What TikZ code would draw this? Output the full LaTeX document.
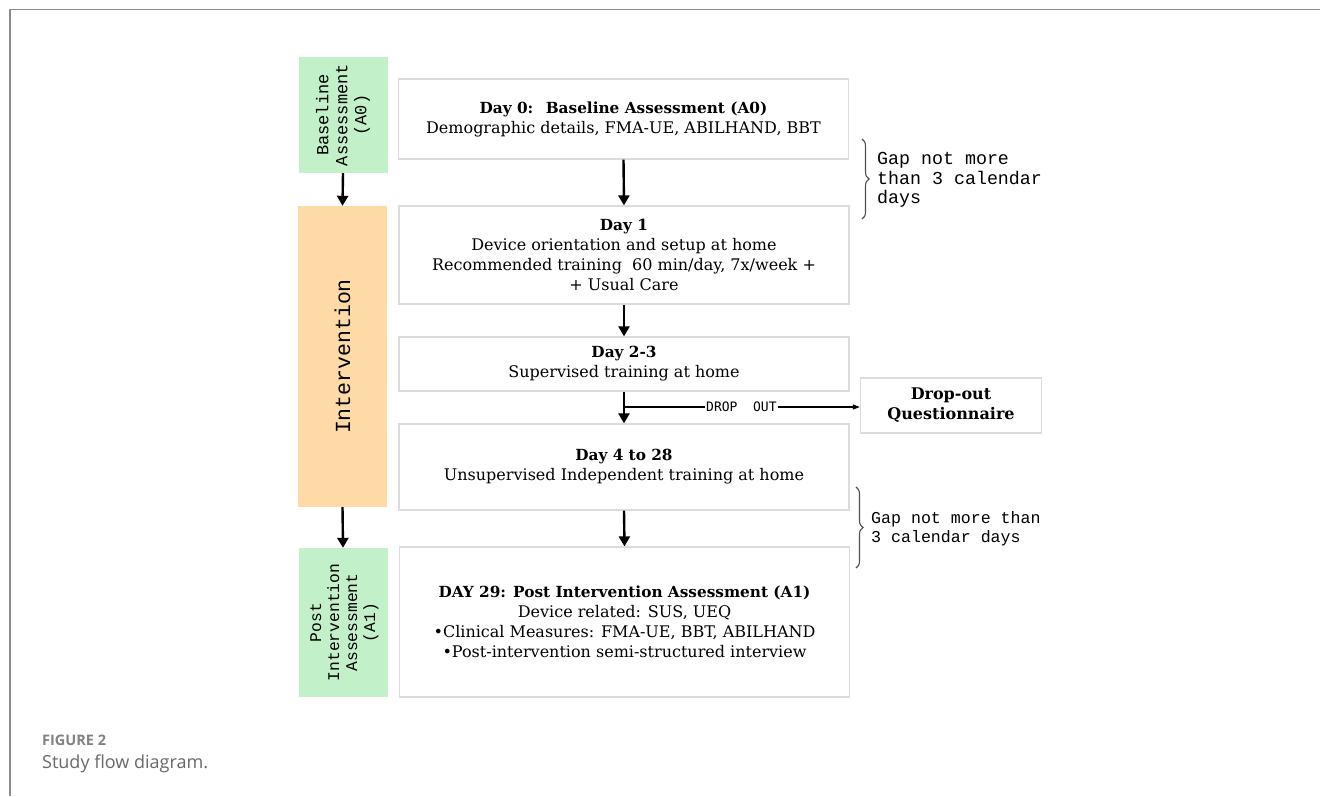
\documentclass[tikz,border=0pt]{standalone}
\usepackage{fontspec}
\setmainfont{DejaVu Serif}
\newfontfamily\monofont{Liberation Mono}
\newfontfamily\dropfont{DejaVu Sans Mono}
\newfontfamily\capfont{Open Sans}
\usetikzlibrary{arrows.meta,decorations.pathreplacing}
\definecolor{boxline}{RGB}{218,220,222}
\definecolor{greenfill}{RGB}{194,240,200}
\definecolor{orangefill}{RGB}{253,218,166}
\definecolor{framegray}{RGB}{140,140,140}
\definecolor{capgray}{RGB}{105,105,105}
\definecolor{capgraylight}{RGB}{130,130,130}
\definecolor{bracegray}{RGB}{80,80,80}
\newcommand{\hd}[1]{{\fontsize{15.3}{20}\selectfont\bfseries #1}}
\begin{document}
\begin{tikzpicture}[x=1pt,y=-1pt,
  stagebox/.style={draw=boxline, line width=1.3pt, fill=white, minimum width=450pt,
    align=center, inner sep=0pt, font=\fontsize{16}{20}\selectfont},
  phasebox/.style={inner sep=0pt, minimum width=89pt, draw=none},
  phasetext/.style={rotate=90, align=center, inner sep=0pt},
  flow/.style={-{Triangle[width=11pt,length=10pt]}, line width=2.4pt},
  thinflow/.style={-{Triangle[width=5pt,length=7pt]}, line width=1.1pt},
  gapbrace/.style={decorate, decoration={brace, amplitude=7pt}, draw=bracegray, line width=1.1pt},
  gaptext/.style={anchor=west, align=left, inner sep=0pt}
]
\useasboundingbox (0,0) rectangle (1320,796);
\fill[white] (0,0) rectangle (1320,796);
% frame
\draw[framegray, line width=1.5pt] (10,796) -- (10,9.5) -- (1320,9.5);

% phase boxes
\node[phasebox, fill=greenfill, minimum height=116pt] (a0) at (343,115) {};
\node[phasetext, font=\monofont\fontsize{17}{19}\selectfont] (a0t) at (a0.center) {Baseline\\Assessment\\(A0)};
\node[phasebox, fill=orangefill, minimum height=301pt] (iv) at (342.5,356.5) {};
\node[phasetext, font=\monofont\fontsize{21.5}{24}\selectfont] (ivt) at (iv.center) {Intervention};
\node[phasebox, fill=greenfill, minimum height=149pt] (a1) at (343,622.5) {};
\node[phasetext, font=\monofont\fontsize{16.3}{18}\selectfont] (a1t) at (344.5,622.5) {Post\\Intervention\\Assessment\\(A1)};

% stage boxes
\node[stagebox, minimum height=80pt] (b0) at (623.5,119) {\hd{Day 0:~ Baseline Assessment (A0)}\\Demographic details, FMA-UE, ABILHAND, BBT};
\node[stagebox, minimum height=98pt] (b1) at (624,255) {\hd{Day 1}\\Device orientation and setup at home\\Recommended training~ 60 min/day, 7x/week +\\+ Usual Care};
\node[stagebox, minimum height=54pt] (b2) at (624,364) {\hd{Day 2-3}\\Supervised training at home};
\node[stagebox, minimum height=86pt] (b3) at (624,467) {\hd{Day 4 to 28}\\Unsupervised Independent training at home};
\node[stagebox, minimum height=150pt] (b4) at (624.5,622) {\hd{DAY 29: Post Intervention Assessment (A1)}\\Device related: SUS, UEQ\\\textbullet Clinical Measures: FMA-UE, BBT, ABILHAND\\\textbullet Post-intervention semi-structured interview};
\node[stagebox, minimum width=181pt, minimum height=55pt, font=\fontsize{16}{20}\selectfont\bfseries] (drop) at (951,405.5) {Drop-out\\Questionnaire};

% flow arrows
\draw[flow] (a0.south) -- (iv.north);
\draw[flow] (iv.south) -- (a1.north);
\draw[flow] (b0.south) -- (b1.north);
\draw[flow] (b1.south) -- (b2.north);
\draw[flow] (b2.south) -- (b3.north);
\draw[flow] (b3.south) -- (b4.north);

% drop out
\coordinate (dsrc) at (623,407);
\draw[thinflow] (dsrc) -- node[fill=white, inner sep=1pt, font=\dropfont\fontsize{13}{15}\selectfont] (dlab) {DROP~ OUT} (dsrc -| drop.west);

% braces
\coordinate (g1a) at (862,139);
\coordinate (g1b) at (862,219);
\draw[gapbrace] (g1a) -- (g1b);
\node[gaptext, font=\monofont\fontsize{18.3}{19.5}\selectfont] (g1t) at (877,180) {Gap not more\\than 3 calendar\\days};
\coordinate (g2a) at (856,487);
\coordinate (g2b) at (856,568);
\draw[gapbrace] (g2a) -- (g2b);
\node[gaptext, font=\monofont\fontsize{16.6}{19}\selectfont] (g2t) at (871,529) {Gap not more than\\3 calendar days};

% caption
\node[anchor=base west, inner sep=0pt, text=capgraylight, font=\capfont\bfseries\fontsize{14.5}{17}\selectfont] (capa) at (42,745) {FIGURE 2};
\node[anchor=base west, inner sep=0pt, text=capgray, font=\capfont\fontsize{18}{21}\selectfont] (capb) at (42,768) {Study flow diagram.};
\end{tikzpicture}
\end{document}
